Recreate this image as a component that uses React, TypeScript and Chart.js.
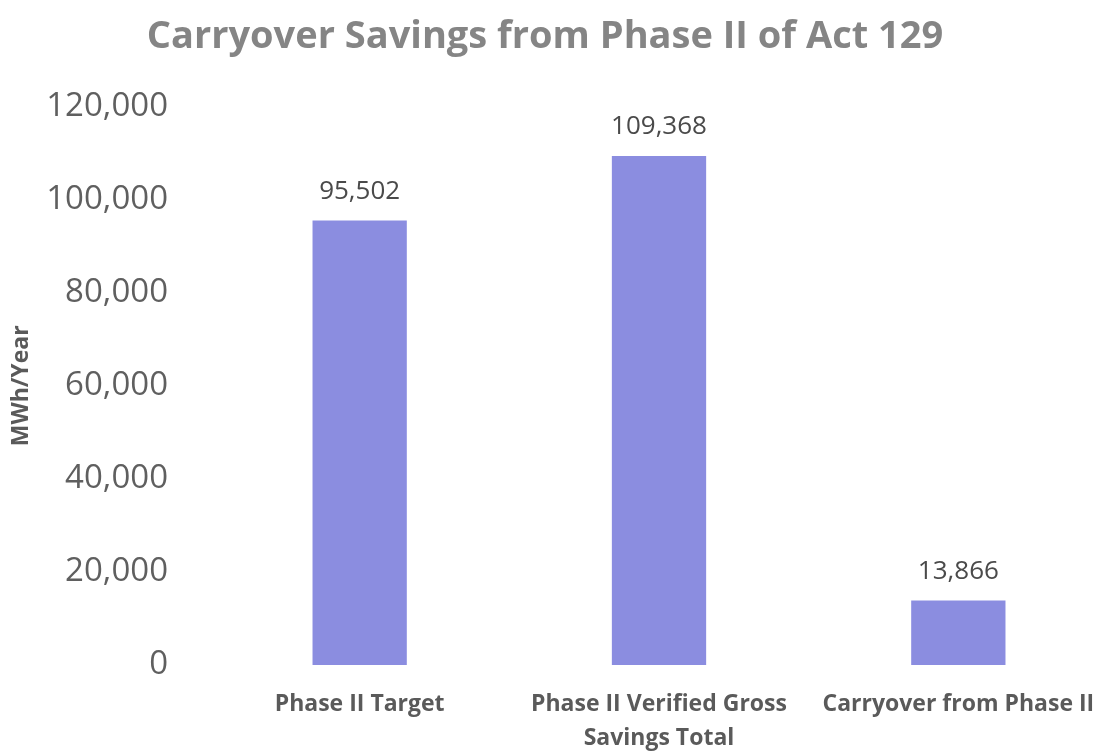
import React, { useEffect, useRef } from "react";
import { Chart, registerables } from "chart.js";

Chart.register(...registerables);

const categories: (string | string[])[] = [
  "Phase II Target",
  ["Phase II Verified Gross", "Savings Total"],
  "Carryover from Phase II",
];
const savings: number[] = [95502, 109368, 13866];
const yTicks: number[] = [0, 20000, 40000, 60000, 80000, 100000, 120000];

const FONT = "'Open Sans', Lato, sans-serif";

const valueLabels = {
  id: "valueLabels",
  afterDatasetsDraw(chart: any) {
    const ctx = chart.ctx;
    const meta = chart.getDatasetMeta(0);
    ctx.save();
    ctx.font = `26px ${FONT}`;
    ctx.fillStyle = "#4a4a4a";
    ctx.textAlign = "center";
    ctx.textBaseline = "middle";
    meta.data.forEach((el: any, i: number) => {
      const v = chart.data.datasets[0].data[i] as number;
      ctx.fillText(v.toLocaleString("en-US"), el.x, el.y - 29);
    });
    ctx.restore();
  },
};

export default function App() {
  const ref = useRef<HTMLCanvasElement>(null);
  useEffect(() => {
    document.body.style.margin = "0";
    const chart = new Chart(ref.current!, {
      type: "bar",
      data: {
        labels: categories,
        datasets: [
          {
            data: savings,
            backgroundColor: "#8b8de0",
            borderWidth: 0,
            barPercentage: 0.525,
            categoryPercentage: 0.6,
          },
        ],
      },
      options: {
        animation: false,
        responsive: false,
        layout: { padding: 0 },
        plugins: {
          legend: { display: false },
          tooltip: { enabled: false },
          title: {
            display: true,
            text: "Carryover Savings from Phase II of Act 129",
            color: "#858585",
            font: { family: FONT, size: 38, weight: "bold" },
            padding: { top: 14, bottom: 47 },
          },
        },
        scales: {
          x: {
            grid: { display: false, drawTicks: false },
            border: { display: false },
            ticks: {
              color: "#5a5a5a",
              font: { family: FONT, size: 23, weight: "bold", lineHeight: 1.5 },
              maxRotation: 0,
              autoSkip: false,
              padding: 22,
            },
            afterFit(scale: any) {
              scale.height = 89;
              scale.paddingLeft = 0;
              scale.paddingRight = 0;
            },
          },
          y: {
            min: 0,
            max: 120000,
            afterBuildTicks(scale: any) {
              scale.ticks = yTicks.map((v) => ({ value: v }));
            },
            grid: { display: false, drawTicks: false },
            border: { display: false },
            ticks: {
              color: "#5f5f5f",
              font: { family: FONT, size: 33 },
              padding: 42,
              callback: (v: any) => Number(v).toLocaleString("en-US"),
            },
            title: {
              display: true,
              text: "MWh/Year",
              color: "#5a5a5a",
              font: { family: FONT, size: 23, weight: "bold" },
              padding: { top: 26, bottom: 0 },
            },
            afterFit(scale: any) {
              scale.width = 228;
            },
          },
        },
      },
      plugins: [valueLabels],
    });
    return () => chart.destroy();
  }, []);
  return (
    <div
      style={{
        width: 1100,
        height: 754,
        background: "#fff",
        overflow: "hidden",
        position: "relative",
      }}
    >
      <canvas
        ref={ref}
        width={1126}
        height={754}
        style={{ position: "absolute", left: -18, top: 0 }}
      />
    </div>
  );
}
